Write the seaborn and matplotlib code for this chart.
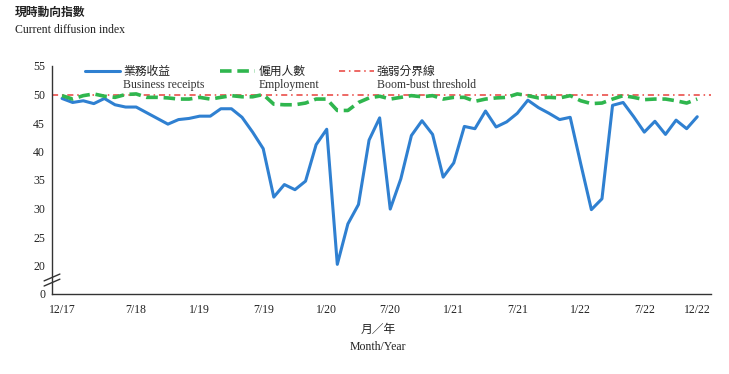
import numpy as np
import pandas as pd
import matplotlib
matplotlib.use("Agg")
import matplotlib.pyplot as plt
import seaborn as sns

# ---- data ----
months = pd.date_range("2017-12-01", "2022-12-01", freq="MS")
business_receipts = [
    49.3, 48.6, 48.9, 48.4, 49.3, 48.2, 47.8, 47.8, 46.8, 45.8,
    44.8, 45.6, 45.8, 46.2, 46.2, 47.5, 47.5, 46.0, 43.4, 40.5,
    32.0, 34.2, 33.3, 34.8, 41.2, 43.9, 20.2, 27.3, 30.7, 42.0,
    45.9, 29.9, 35.2, 42.8, 45.4, 43.0, 35.5, 38.0, 44.4, 44.0,
    47.1, 44.3, 45.2, 46.7, 49.0, 47.7, 46.7, 45.6, 46.0, 37.8,
    29.8, 31.7, 48.1, 48.6, 46.1, 43.4, 45.3, 43.0, 45.5, 44.0,
    46.1,
]
employment = [
    49.8, 49.2, 49.8, 50.1, 49.7, 49.5, 50.0, 50.1, 49.5, 49.5,
    49.4, 49.2, 49.2, 49.5, 49.2, 49.5, 49.8, 49.6, 49.6, 50.0,
    48.3, 48.2, 48.2, 48.5, 49.2, 49.2, 47.2, 47.2, 48.6, 49.4,
    49.7, 49.2, 49.5, 49.8, 49.6, 49.8, 49.2, 49.5, 49.5, 48.8,
    49.2, 49.4, 49.5, 50.1, 49.8, 49.4, 49.5, 49.4, 49.8, 48.9,
    48.4, 48.5, 49.2, 49.8, 49.5, 49.1, 49.2, 49.2, 48.9, 48.5,
    49.2,
]
threshold = 50
tick_labels = ["12/17", "7/18", "1/19", "7/19", "1/20", "7/20",
               "1/21", "7/21", "1/22", "7/22", "12/22"]
y_tick_values = [0, 20, 25, 30, 35, 40, 45, 50, 55]
series_zh = ["業務收益", "僱用人數", "強弱分界線"]
series_en = ["Business receipts", "Employment", "Boom-bust threshold"]

# ---- styling ----
sns.set_style("white")
CJK = ["Noto Sans CJK TC", "DejaVu Sans"]
SERIF = ["Liberation Serif", "DejaVu Serif"]
plt.rcParams["font.family"] = SERIF

blue = "#2f80d1"
green = "#2fb64e"
red = "#e8403a"

idx = np.arange(len(months))
labels_all = [f"{d.month}/{d.year % 100:02d}" for d in months]
df = pd.DataFrame({"i": idx, "br": business_receipts, "emp": employment})

fig = plt.figure(figsize=(7.29, 3.74), dpi=100)
ax = fig.add_axes([52/729, 1-294/374, (711-52)/729, (294-66)/374])

# broken axis: value 0 is drawn at position 15
def ypos(v):
    return 15 if v == 0 else v

sns.lineplot(data=df, x="i", y="br", ax=ax, color=blue, lw=2.2, legend=False)
sns.lineplot(data=df, x="i", y="emp", ax=ax, color=green, lw=2.6,
             linestyle=(0, (3.2, 1.6)), legend=False)
ax.axhline(threshold, color=red, lw=1.1, linestyle=(0, (4, 2.5, 1, 2.5)), zorder=1)

ax.set_xlim(-0.95, 61.3)
ax.set_ylim(15, 55)
ax.set_xlabel("")
ax.set_ylabel("")

# y ticks
ax.set_yticks([ypos(v) for v in y_tick_values])
ax.set_yticklabels([str(v) for v in y_tick_values])
# x ticks
tick_pos = [labels_all.index(l.replace("/", "/") if l.split("/")[0] != "12" else l) if False else None for l in tick_labels]
def label_to_index(l):
    m, y = l.split("/")
    return labels_all.index(f"{int(m)}/{y}")
tick_pos = [label_to_index(l) for l in tick_labels]
ax.set_xticks(tick_pos)
ax.set_xticklabels(tick_labels)
ax.set_xticks(idx, minor=True)
ax.tick_params(axis="x", which="both", direction="in", length=3, width=0.8,
               colors="#333333", labelsize=8.5, pad=7)
ax.tick_params(axis="y", which="major", direction="in", length=3, width=0.8,
               colors="#333333", labelsize=8.5, pad=5)
for lab in ax.get_xticklabels() + ax.get_yticklabels():
    lab.set_color("#222222")

for s in ["top", "right"]:
    ax.spines[s].set_visible(False)
for s in ["left", "bottom"]:
    ax.spines[s].set_color("#333333")
    ax.spines[s].set_linewidth(1.0)

# axis break marks
from matplotlib.transforms import blended_transform_factory
tr = blended_transform_factory(ax.transAxes, ax.transData)
for yb in (17.0, 17.9):
    ax.plot([-0.012, 0.012], [yb - 0.6, yb + 0.6], transform=tr, color="#333333",
            lw=1.0, clip_on=False)

# legend drawn manually in axes coordinates
leg_x = [0.050, 0.255, 0.435]
line_styles = [dict(color=blue, lw=2.2, ls="-"),
               dict(color=green, lw=2.6, ls=(0, (3.2, 1.6))),
               dict(color=red, lw=1.1, ls=(0, (4, 2.5, 1, 2.5)))]
for x0, zh, en, st in zip(leg_x, series_zh, series_en, line_styles):
    ax.plot([x0, x0 + 0.053], [0.978, 0.978], transform=ax.transAxes, clip_on=False, **st)
    ax.text(x0 + 0.058, 0.978, zh, transform=ax.transAxes, family=CJK,
            fontsize=8.5, va="center", ha="left", color="#222222")
    ax.text(x0 + 0.058, 0.915, en, transform=ax.transAxes, family=SERIF,
            fontsize=8.5, va="center", ha="left", color="#333333")

# titles
fig.text(15/729, 1-12/374, "現時動向指數", family=CJK, fontsize=8.5,
         fontweight="bold", va="center", ha="left", color="#222222")
fig.text(15/729, 1-30/374, "Current diffusion index", family=SERIF, fontsize=8.5,
         va="center", ha="left", color="#222222")
fig.text(378/729, 1-329/374, "月／年", family=CJK, fontsize=8.5,
         va="center", ha="center", color="#222222")
fig.text(378/729, 1-347/374, "Month/Year", family=SERIF, fontsize=8.5,
         va="center", ha="center", color="#222222")

fig.savefig("out.png", dpi=100)
